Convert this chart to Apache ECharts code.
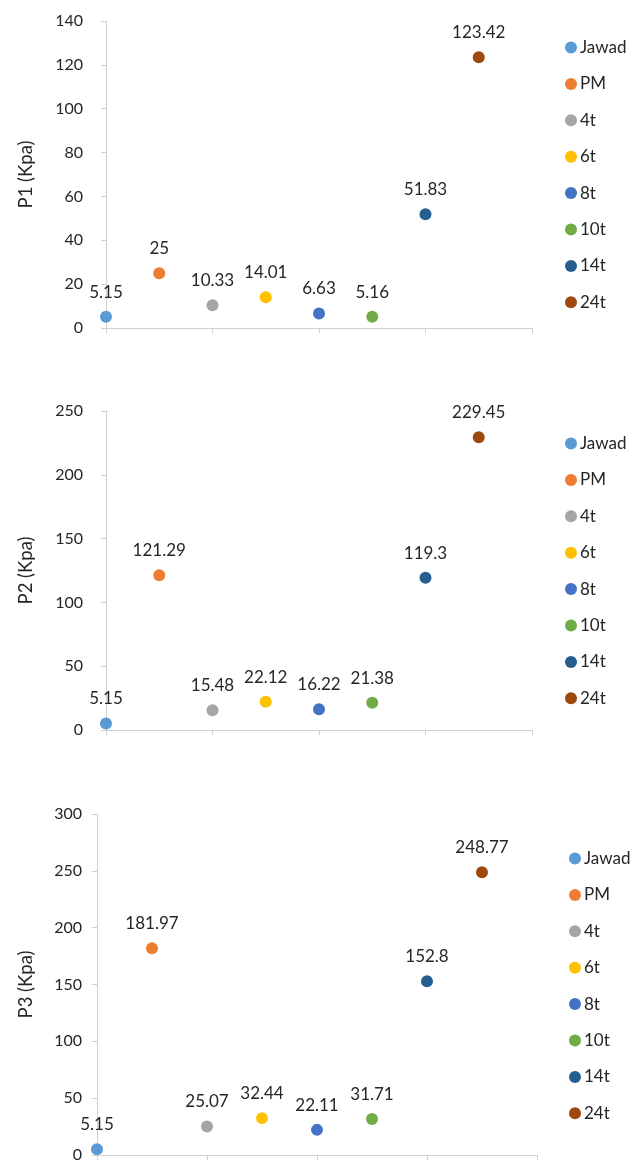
<!DOCTYPE html>
<html>
<head>
<meta charset="utf-8">
<script src="https://cdn.jsdelivr.net/npm/echarts@6/dist/echarts.min.js"></script>
<style>
  html, body { margin: 0; padding: 0; background: #fff; }
  #chart { width: 644px; height: 1163px; }
</style>
</head>
<body>
<div id="chart"></div>
<script>
// categories (one marker each, placed at x = 0..7)
const NAMES = ["Jawad", "PM", "4t", "6t", "8t", "10t", "14t", "24t"];
const COLORS = ["#5B9BD5", "#ED7D31", "#A5A5A5", "#FFC000", "#4472C4", "#70AD47", "#255E91", "#9E480E"];
const X_POS = [0, 1, 2, 3, 4, 5, 6, 7];

// pressure values per panel
const P1 = [5.15, 25, 10.33, 14.01, 6.63, 5.16, 51.83, 123.42];
const P2 = [5.15, 121.29, 15.48, 22.12, 16.22, 21.38, 119.3, 229.45];
const P3 = [5.15, 181.97, 25.07, 32.44, 22.11, 31.71, 152.8, 248.77];

const Y_TITLES = ["P1 (Kpa)", "P2 (Kpa)", "P3 (Kpa)"];
const Y_MAX = [140, 250, 300];
const Y_STEP = [20, 50, 50];

const FONT = "Lato, 'Open Sans', sans-serif";
const INK = "#262626";
const AXIS = "#d0d0d0";

/* ── 每个面板的布局 ── */
const panels = [
  { data: P1, grid: { left: 106, top: 21, width: 426, height: 307 }, legendTop: 39, legendLeft: 565, nameGap: 70, labelMargin: 23 },
  { data: P2, grid: { left: 106, top: 411, width: 426, height: 319 }, legendTop: 435, legendLeft: 565, nameGap: 70, labelMargin: 23 },
  { data: P3, grid: { left: 97, top: 814, width: 440, height: 344 }, legendTop: 850, legendLeft: 569, nameGap: 61, labelMargin: 15 },
];

const chart = echarts.init(document.getElementById("chart"));

const grid = [], xAxis = [], yAxis = [], legend = [], series = [];

panels.forEach((p, i) => {
  grid.push(p.grid);
  xAxis.push({
    gridIndex: i,
    type: "value",
    min: 0,
    max: 8,
    interval: 2,
    axisLine: { show: true, onZero: false, lineStyle: { color: AXIS, width: 1 } },
    axisTick: { show: true, length: 5, lineStyle: { color: AXIS } },
    axisLabel: { show: false },
    splitLine: { show: false },
  });
  yAxis.push({
    gridIndex: i,
    type: "value",
    min: 0,
    max: Y_MAX[i],
    interval: Y_STEP[i],
    name: Y_TITLES[i],
    nameLocation: "middle",
    nameGap: p.nameGap,
    nameTextStyle: { fontSize: 18.5, color: INK, fontFamily: FONT },
    axisLine: { show: true, lineStyle: { color: AXIS, width: 1 } },
    axisTick: { show: true, length: 5, lineStyle: { color: AXIS } },
    axisLabel: { margin: p.labelMargin, fontSize: 16, color: INK, fontFamily: FONT },
    splitLine: { show: false },
  });
  legend.push({
    orient: "vertical",
    left: p.legendLeft,
    top: p.legendTop,
    padding: 0,
    itemWidth: 12,
    itemHeight: 12,
    itemGap: 19.4,
    icon: "circle",
    data: NAMES,
    textStyle: { fontSize: 17, lineHeight: 16, color: INK, fontFamily: FONT, padding: [0, 0, 0, -2] },
    selectedMode: false,
  });
  NAMES.forEach((n, k) => {
    series.push({
      name: n,
      type: "scatter",
      xAxisIndex: i,
      yAxisIndex: i,
      symbolSize: 12,
      itemStyle: { color: COLORS[k], opacity: 1 },
      label: {
        show: true,
        position: "top",
        distance: 10,
        fontSize: 17,
        color: INK,
        fontFamily: FONT,
        formatter: (d) => String(d.value[1]),
      },
      data: [[X_POS[k], p.data[k]]],
    });
  });
});

chart.setOption({
  backgroundColor: "#fff",
  animation: false,
  grid,
  xAxis,
  yAxis,
  legend,
  series,
});
</script>
</body>
</html>
